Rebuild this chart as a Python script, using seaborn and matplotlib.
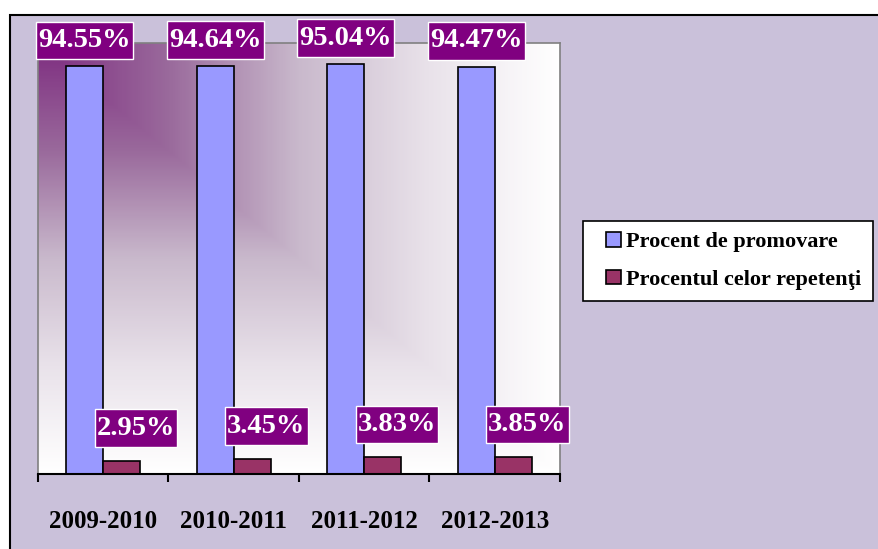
import numpy as np
import pandas as pd
import matplotlib.pyplot as plt
import seaborn as sns
from matplotlib.colors import LinearSegmentedColormap
from matplotlib.patches import Rectangle
from matplotlib.legend_handler import HandlerPatch

years = ["2009-2010", "2010-2011", "2011-2012", "2012-2013"]
promovare = [94.55, 94.64, 95.04, 94.47]
repetenti = [2.95, 3.45, 3.83, 3.85]
series_names = ["Procent de promovare", "Procentul celor repetenţi"]

df = pd.DataFrame({
    "An": years * 2,
    "Procent": promovare + repetenti,
    "Serie": [series_names[0]] * len(years) + [series_names[1]] * len(years),
})

sns.set_style("white")
plt.rcParams["font.family"] = ["Liberation Serif", "DejaVu Serif"]
plt.rcParams["text.color"] = "black"
plt.rcParams["xtick.color"] = "black"

W, H = 879, 549
fig = plt.figure(figsize=(W / 100, H / 100), dpi=100)
fig.patch.set_facecolor("white")

# lavender chart area with black border (right/bottom run off the picture)
bg = Rectangle((10 / W, -0.1), 1.2, 1 - 15 / H + 0.1, transform=fig.transFigure,
               facecolor="#CAC1DA", edgecolor="black", lw=1.5, zorder=-1)
fig.add_artist(bg)

ax = fig.add_axes([38 / W, 1 - 474 / H, (560 - 38) / W, (474 - 43) / H])

sns.barplot(data=df, x="An", y="Procent", hue="Serie",
            palette=["#9999FF", "#993366"], saturation=1,
            width=0.57, gap=0, edgecolor="black", linewidth=1.2,
            ax=ax, zorder=2)

# corner gradient background of the plot area
xl = (-0.5, len(years) - 0.5)
gx, gy = np.meshgrid(np.linspace(0, 1, 300), np.linspace(0, 1, 300))
t = np.maximum(gx, gy)
cmap = LinearSegmentedColormap.from_list(
    "bg", [(0, "#7E2D80"), (0.25, "#9A6A9C"), (0.5, "#C9B9CC"),
           (0.75, "#E9E2EA"), (1, "#FFFFFF")])
ax.imshow(t, cmap=cmap, extent=[xl[0], xl[1], 0, 100], origin="upper",
          aspect="auto", zorder=0, interpolation="bilinear")

ax.set_xlim(*xl)
ax.set_ylim(0, 100)
ax.set_xlabel("")
ax.set_ylabel("")
ax.set_yticks([])

ax.set_xticks(range(len(years)))
ax.set_xticklabels(years, fontsize=18, fontweight="bold", color="black")
ax.set_xticks(np.arange(-0.5, len(years)), minor=True)
ax.tick_params(axis="x", which="major", length=0, pad=26)
ax.tick_params(axis="x", which="minor", bottom=True, length=6, width=1.5,
               color="black", direction="out")

for side in ["top", "left", "right"]:
    ax.spines[side].set_color("#808080")
    ax.spines[side].set_linewidth(1.2)
ax.spines["bottom"].set_color("black")
ax.spines["bottom"].set_linewidth(1.5)

box = dict(boxstyle="square,pad=0.075", mutation_aspect=3,
           fc="#800080", ec="white", lw=1)
offsets = [(0, 26), (14, 33)]
for cont, off in zip(ax.containers, offsets):
    for bar in cont:
        x = bar.get_x() + bar.get_width() / 2
        v = bar.get_height()
        ax.annotate(f"{v:.2f}%", (x, v), xytext=off, textcoords="offset pixels",
                    ha="center", va="center", fontsize=20.5, fontweight="bold",
                    color="white", bbox=box, zorder=5)


def square_at_right(legend, orig_handle, xdescent, ydescent, width, height, fontsize):
    s = height
    return Rectangle((width - s - xdescent, -ydescent), s, s, lw=1.5)


handles, labels = ax.get_legend_handles_labels()
leg = ax.legend(handles, labels, loc="upper left",
                bbox_to_anchor=(583 / W, 1 - 221 / H), bbox_transform=fig.transFigure,
                frameon=True, fancybox=False, framealpha=1, edgecolor="black",
                prop={"weight": "bold", "size": 16}, handlelength=1.2,
                handleheight=0.62, handletextpad=0.25, labelspacing=0.8,
                borderpad=0.5, borderaxespad=0,
                handler_map={h: HandlerPatch(patch_func=square_at_right) for h in handles})
leg.get_frame().set_linewidth(1.2)
for txt in leg.get_texts():
    txt.set_color("black")

fig.savefig("out.png", dpi=100)
